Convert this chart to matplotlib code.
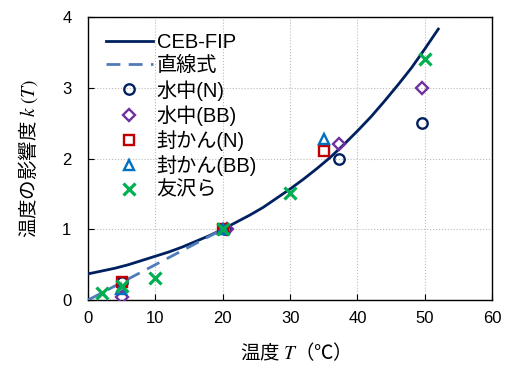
import matplotlib
matplotlib.use("Agg")
import matplotlib.pyplot as plt

plt.rcParams["font.family"] = ["Liberation Sans", "Noto Sans CJK JP", "DejaVu Sans"]
plt.rcParams["mathtext.fontset"] = "stix"

# CEB-FIP curve
ceb_T = [0, 2, 4, 6, 8, 10, 12, 14, 16, 18, 20, 22, 24, 26, 28, 30, 32, 34,
         36, 38, 40, 42, 44, 46, 48, 50, 52]
ceb_k = [0.37, 0.41, 0.45, 0.50, 0.56, 0.62, 0.68, 0.75, 0.83, 0.91, 1.00,
         1.10, 1.20, 1.31, 1.44, 1.57, 1.71, 1.86, 2.02, 2.20, 2.39, 2.59,
         2.81, 3.04, 3.28, 3.55, 3.83]

# straight line
line_T = [0, 20]
line_k = [0.0, 1.0]

# measured points
wn_T = [5, 20.3, 37.2, 49.6]
wn_k = [0.25, 1.0, 2.0, 2.5]
wbb_T = [5, 20.6, 37.2, 49.6]
wbb_k = [0.05, 1.0, 2.2, 3.0]
sn_T = [5, 20, 35]
sn_k = [0.25, 1.0, 2.1]
sbb_T = [4.9, 20, 35]
sbb_k = [0.16, 1.0, 2.28]
tomo_T = [2, 5, 10, 20, 30, 50]
tomo_k = [0.1, 0.2, 0.31, 1.0, 1.51, 3.4]

fig = plt.figure(figsize=(5.09, 3.70), dpi=100)
ax = fig.add_axes([0.173, 0.189, 0.794, 0.765])

ax.plot(ceb_T, ceb_k, "-", color="#002060", lw=2.0, label="CEB-FIP", zorder=3)
ax.plot(line_T, line_k, "--", color="#4F7CB8", lw=2.0, dashes=(5, 3),
        label="直線式", zorder=3)
mk = dict(ls="none", ms=7.5, mew=1.7, mfc="none", zorder=4)
ax.plot(wn_T, wn_k, marker="o", mec="#002060", label="水中(N)", **mk)
ax.plot(wbb_T, wbb_k, marker="D", mec="#7030A0", label="水中(BB)",
        **{**mk, "ms": 6.5})
ax.plot(sn_T, sn_k, marker="s", mec="#C00000", label="封かん(N)", **mk)
ax.plot(sbb_T, sbb_k, marker="^", mec="#0070C0", label="封かん(BB)", **mk)
ax.plot(tomo_T, tomo_k, marker="x", ls="none", ms=8, mew=2.3,
        color="#00B050", label="友沢ら", zorder=5)

ax.set_xlim(0, 60)
ax.set_ylim(0, 4)
ax.set_xticks(range(0, 61, 10))
ax.set_yticks(range(0, 5))
ax.grid(True, color="#BBBBBB", ls=":", lw=0.8)
ax.tick_params(direction="in", length=4, labelsize=12)
ax.tick_params(axis="y", pad=12)
ax.tick_params(axis="x", pad=8)
for s in ax.spines.values():
    s.set_linewidth(1.0)

ax.set_xlabel("温度 $T$（℃）", fontsize=14, labelpad=11,
              fontfamily="Noto Sans CJK JP")
ax.set_ylabel("温度の影響度 $k\\ (T)$", fontsize=14, labelpad=16,
              fontfamily="Noto Sans CJK JP")

ax.legend(loc="upper left", bbox_to_anchor=(0.035, 0.958), frameon=False,
          fontsize=14.5, handlelength=2.3, labelspacing=0.22, borderaxespad=0.0,
          handletextpad=0.2, borderpad=0.2)

fig.savefig("out.png", dpi=100)
